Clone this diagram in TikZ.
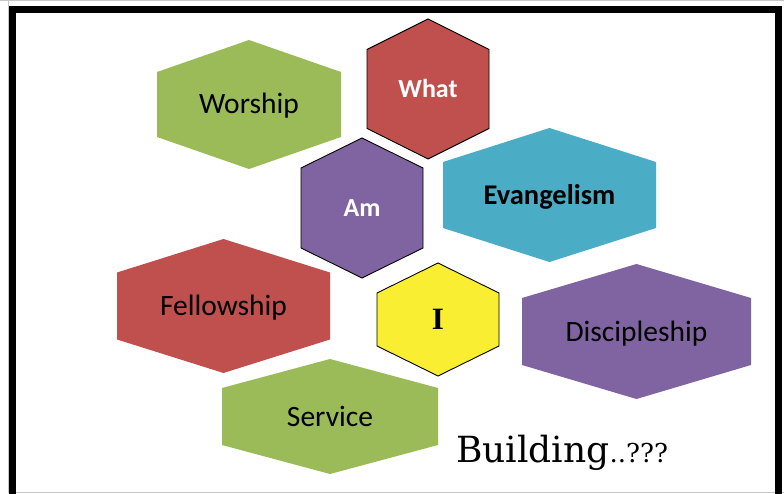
\documentclass[tikz,border=0pt]{standalone}
\usepackage{fontspec}
\setmainfont{Carlito}
\newfontfamily\serifI{Liberation Serif}
\newfontfamily\bldfont{DejaVu Serif}
\definecolor{ogreen}{HTML}{9BBB59}
\definecolor{ored}{HTML}{C0504D}
\definecolor{oblue}{HTML}{4BACC6}
\definecolor{opurple}{HTML}{8064A2}
\definecolor{oyellow}{HTML}{F9EE31}
% hexagon: cx cy halfwidth halfheight sideoffset style
\newcommand\hexshape[6]{%
  \path[#6] (#1,{#2-#4}) -- ({#1+#3},{#2-#5}) -- ({#1+#3},{#2+#5}) -- (#1,{#2+#4}) -- ({#1-#3},{#2+#5}) -- ({#1-#3},{#2-#5}) -- cycle;}
\tikzset{
  flat/.style={fill=#1},
  outlined/.style={fill=#1, draw=black, line width=0.9pt, line join=miter},
  lbl/.style={font=\fontsize{29.5}{31}\selectfont, text height=19pt, text depth=0pt, inner sep=0pt},
  lblw/.style={font=\fontsize{26}{28}\selectfont\bfseries, text=white, text height=16.7pt, text depth=0pt, inner sep=0pt},
}
\begin{document}
\begin{tikzpicture}[x=1pt,y=-1pt]
\useasboundingbox (0,0) rectangle (784,494);
\fill[white] (0,0) rectangle (784,494);
% frame
\draw[gray!45, line width=1pt] (0,1) -- (784,1);
\draw[gray!45, line width=1pt] (8,492.5) -- (784,492.5);
\draw[gray!45, line width=1pt] (8,1) -- (8,492.5);
\draw[black, line width=7pt] (12,494) -- (12,10) -- (778.5,10) -- (778.5,494);
% flat hexagons
\hexshape{249}{104.5}{92}{64.5}{32.5}{flat=ogreen}
\hexshape{549.5}{195}{106.5}{67}{33}{flat=oblue}
\hexshape{223.5}{306}{106.5}{67}{33.5}{flat=ored}
\hexshape{636.5}{331.5}{114.5}{67.5}{33.5}{flat=opurple}
\hexshape{330}{416.5}{108}{57.5}{28.5}{flat=ogreen}
% outlined hexagons
\hexshape{428}{89}{61}{70}{39.5}{outlined=ored}
\hexshape{362}{208}{61}{70}{40}{outlined=opurple}
\hexshape{438}{319.5}{61}{56.5}{26.5}{outlined=oyellow}
% labels
\node[lbl] (worship) at (249,104.5) {Worship};
\node[lbl, font=\fontsize{28.5}{30}\selectfont\bfseries] (evangelism) at (549.5,195) {Evangelism};
\node[lbl] (fellowship) at (223.5,306) {Fellowship};
\node[lbl] (discipleship) at (636.5,331.5) {Discipleship};
\node[lbl] (service) at (330,416.5) {Service};
\node[lblw] (what) at (428,89) {What};
\node[lblw] (am) at (362,208) {Am};
\node[inner sep=0pt, font=\fontsize{31}{33}\selectfont\serifI\bfseries, text height=20.5pt, text depth=0pt] (i) at (438,319) {I};
\node[anchor=base west, inner sep=0pt] (building) at (456,462) {\bldfont\fontsize{36}{38}\selectfont Building\fontsize{26}{28}\selectfont..???};
\end{tikzpicture}
\end{document}
